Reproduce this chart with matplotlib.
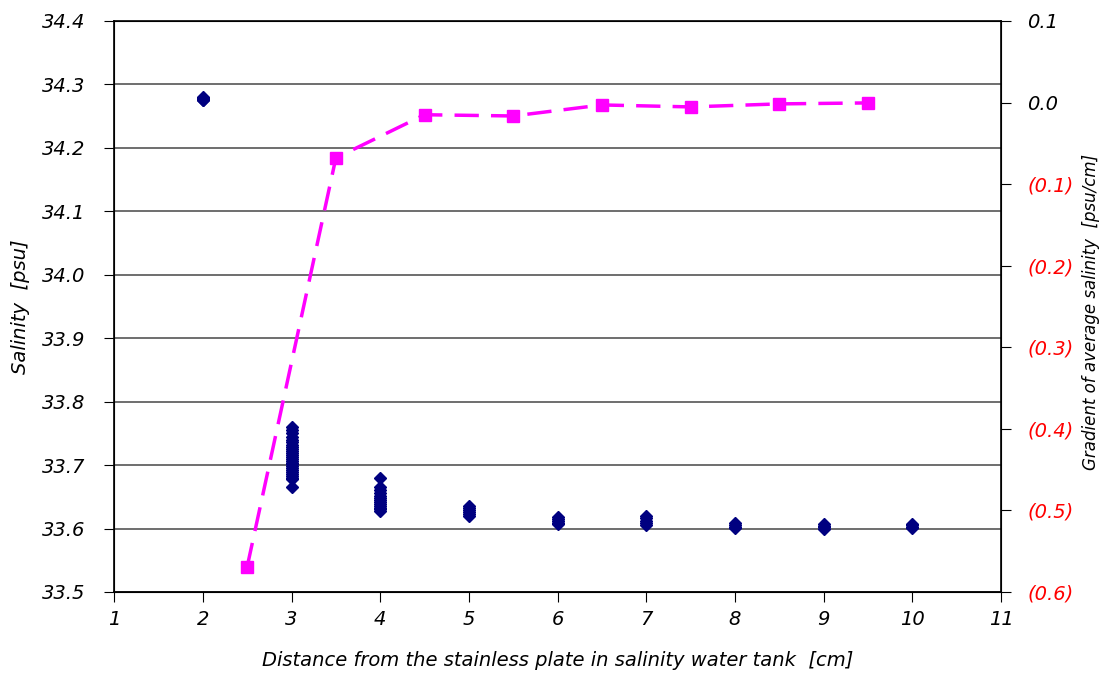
import numpy as np
import matplotlib.pyplot as plt
from matplotlib.ticker import MultipleLocator, FuncFormatter

# salinity readings at each distance [cm]
dist_2 = [34.275, 34.277, 34.278, 34.279, 34.280, 34.276]
dist_3 = [33.760, 33.755, 33.750, 33.745, 33.740, 33.736, 33.732, 33.728, 33.725,
          33.722, 33.719, 33.716, 33.713, 33.710, 33.707, 33.704, 33.701, 33.698,
          33.695, 33.692, 33.689, 33.686, 33.683, 33.680, 33.678, 33.665]
dist_4 = [33.680, 33.665, 33.660, 33.656, 33.652, 33.648, 33.645, 33.642, 33.639,
          33.636, 33.633, 33.630, 33.628]
dist_5 = [33.635, 33.632, 33.629, 33.626, 33.623, 33.620]
dist_6 = [33.618, 33.615, 33.612, 33.609, 33.607]
dist_7 = [33.620, 33.616, 33.612, 33.608, 33.605]
dist_8 = [33.609, 33.606, 33.603, 33.601]
dist_9 = [33.607, 33.604, 33.602, 33.600]
dist_10 = [33.607, 33.605, 33.603, 33.601]
salinity = {2: dist_2, 3: dist_3, 4: dist_4, 5: dist_5, 6: dist_6,
            7: dist_7, 8: dist_8, 9: dist_9, 10: dist_10}

# gradient of average salinity between neighbouring positions
grad_x = [2.5, 3.5, 4.5, 5.5, 6.5, 7.5, 8.5, 9.5]
grad_y = [-0.569, -0.068, -0.015, -0.0165, -0.003, -0.0054, -0.0017, -0.0005]

plt.rcParams['font.family'] = ['DejaVu Sans']
fig = plt.figure(figsize=(11.03, 6.75), dpi=100)
ax = fig.add_axes([0.1035, 0.123, 0.804, 0.846])

for d, vals in salinity.items():
    ax.plot([d] * len(vals), vals, linestyle='none', marker='D', markersize=6,
            color='#000080', markeredgecolor='#000080', zorder=3)

ax.set_xlim(1, 11)
ax.set_ylim(33.5, 34.4)
ax.xaxis.set_major_locator(MultipleLocator(1))
ax.yaxis.set_major_locator(MultipleLocator(0.1))
ax.yaxis.set_major_formatter(FuncFormatter(lambda v, p: f"{v:.1f}"))
ax.grid(axis='y', color='#555555', linewidth=1.2)
ax.set_axisbelow(True)
ax.tick_params(direction='out', length=7, labelsize=14, color='black')
ax.tick_params(axis='y', pad=14)
ax.tick_params(axis='x', pad=6)
for lab in ax.get_xticklabels() + ax.get_yticklabels():
    lab.set_fontstyle('italic')
ax.set_xlabel('Distance from the stainless plate in salinity water tank  [cm]',
              fontsize=14, fontstyle='italic', labelpad=16)
ax.set_ylabel('Salinity  [psu]', fontsize=14, fontstyle='italic')
ax.yaxis.set_label_coords(-0.095, 0.5)
for s in ax.spines.values():
    s.set_color('black')
    s.set_linewidth(1.2)

ax2 = ax.twinx()
ax2.plot(grad_x, grad_y, linestyle=(0, (7, 3.5)), linewidth=2.5, color='#FF00FF',
         marker='s', markersize=9, markerfacecolor='#FF00FF',
         markeredgecolor='#FF00FF', zorder=4)
ax2.set_ylim(-0.6, 0.1)
ax2.yaxis.set_major_locator(MultipleLocator(0.1))


def paren_fmt(v, p):
    if v < -1e-9:
        return f"({abs(v):.1f})"
    return f"{abs(v):.1f}"


ax2.yaxis.set_major_formatter(FuncFormatter(paren_fmt))
ax2.tick_params(direction='out', length=7, labelsize=14, pad=12)
fig.canvas.draw()
for lab in ax2.get_yticklabels():
    lab.set_fontstyle('italic')
    if lab.get_text().startswith('('):
        lab.set_color('red')
ax2.set_ylabel('Gradient of average salinity  [psu/cm]', fontsize=12,
               fontstyle='italic')
ax2.yaxis.set_label_coords(1.091, 0.49)

fig.savefig('out.png', dpi=100)
